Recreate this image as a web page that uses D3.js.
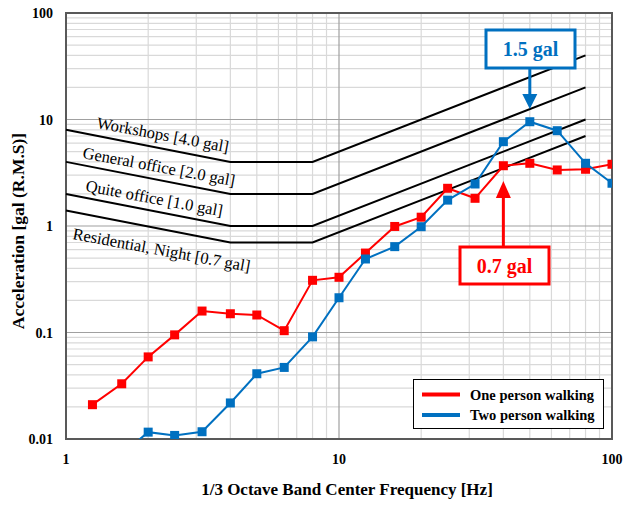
<!DOCTYPE html>
<html>
<head>
<meta charset="utf-8">
<script src="https://cdn.jsdelivr.net/npm/d3@7"></script>
<style>
  body { margin: 0; background: #fff; }
  svg { display: block; font-family: "Liberation Serif", "Times New Roman", serif; }
</style>
</head>
<body>
<script>
// 1/3 octave band centre frequencies [Hz]
var freqOne = [1.25, 1.6, 2, 2.5, 3.15, 4, 5, 6.3, 8, 10, 12.5, 16, 20, 25, 31.5, 40, 50, 63, 80, 100];
var oneWalking = [0.021, 0.033, 0.059, 0.095, 0.159, 0.150, 0.146, 0.104, 0.309, 0.33, 0.557, 0.99, 1.21, 2.26, 1.82, 3.68, 3.88, 3.36, 3.41, 3.80];
var freqTwo = [1.6, 2, 2.5, 3.15, 4, 5, 6.3, 8, 10, 12.5, 16, 20, 25, 31.5, 40, 50, 63, 80, 100];
var twoWalking = [0.0072, 0.0116, 0.0108, 0.0117, 0.0218, 0.041, 0.047, 0.091, 0.212, 0.49, 0.64, 0.985, 1.75, 2.48, 6.19, 9.53, 7.85, 3.88, 2.52];

// criteria curves
var critFreq = [1, 4, 8, 80];
var workshops = [8, 4, 4, 40];
var generalOffice = [4, 2, 2, 20];
var quietOffice = [2, 1, 1, 10];
var residential = [1.4, 0.7, 0.7, 7];
var critNames = ["Workshops [4.0 gal]", "General office [2.0 gal]", "Quite office [1.0 gal]", "Residential, Night [0.7 gal]"];

var xTicks = [1, 10, 100];
var yTicks = [0.01, 0.1, 1, 10, 100];

var width = 624, height = 505;
var pLeft = 66, pRight = 612, pTop = 13, pBottom = 439;

var svg = d3.select("body").append("svg")
	.attr("width", width)
	.attr("height", height);

var x = d3.scaleLog().domain([1, 100]).range([pLeft, pRight]);
var y = d3.scaleLog().domain([0.01, 100]).range([pBottom, pTop]);

// grid lines
var minorX = [], minorY = [];
[1, 10].forEach(function(d){ for (var k = 2; k <= 9; k++) minorX.push(d * k); });
[0.01, 0.1, 1, 10].forEach(function(d){ for (var k = 2; k <= 9; k++) minorY.push(d * k); });

var grid = svg.append("g");
grid.selectAll(".mx").data(minorX).enter().append("line")
	.attr("x1", d => x(d)).attr("x2", d => x(d))
	.attr("y1", pTop).attr("y2", pBottom)
	.attr("stroke", "#d9d9d9").attr("stroke-width", 1.2);
grid.selectAll(".my").data(minorY).enter().append("line")
	.attr("x1", pLeft).attr("x2", pRight)
	.attr("y1", d => y(d)).attr("y2", d => y(d))
	.attr("stroke", "#d9d9d9").attr("stroke-width", 1.2);
grid.selectAll(".Mx").data(xTicks).enter().append("line")
	.attr("x1", d => x(d)).attr("x2", d => x(d))
	.attr("y1", pTop).attr("y2", pBottom)
	.attr("stroke", "#a0a0a0").attr("stroke-width", 1.2);
grid.selectAll(".My").data(yTicks).enter().append("line")
	.attr("x1", pLeft).attr("x2", pRight)
	.attr("y1", d => y(d)).attr("y2", d => y(d))
	.attr("stroke", "#a0a0a0").attr("stroke-width", 1.2);

// plot frame
svg.append("rect")
	.attr("x", pLeft).attr("y", pTop)
	.attr("width", pRight - pLeft).attr("height", pBottom - pTop)
	.attr("fill", "none").attr("stroke", "#595959").attr("stroke-width", 2);

// tick labels
svg.selectAll(".xt").data(xTicks).enter().append("text")
	.attr("x", d => x(d)).attr("y", 464)
	.attr("text-anchor", "middle")
	.attr("font-size", 14).attr("font-weight", "bold")
	.text(d => d);
svg.selectAll(".yt").data(yTicks).enter().append("text")
	.attr("x", 53).attr("y", d => y(d) + 5)
	.attr("text-anchor", "end")
	.attr("font-size", 14).attr("font-weight", "bold")
	.text(d => d);

// axis titles
svg.append("text")
	.attr("x", 347).attr("y", 495)
	.attr("text-anchor", "middle")
	.attr("font-size", 17).attr("font-weight", "bold")
	.text("1/3 Octave Band Center Frequency [Hz]");
svg.append("text")
	.attr("transform", "translate(24,231) rotate(-90)")
	.attr("text-anchor", "middle")
	.attr("font-size", 17.5).attr("font-weight", "bold")
	.text("Acceleration [gal (R.M.S)]");

// criteria lines
var critLine = d3.line().x(d => x(d[0])).y(d => y(d[1]));
[workshops, generalOffice, quietOffice, residential].forEach(function(vals){
	svg.append("path")
		.attr("d", critLine(critFreq.map((f, i) => [f, vals[i]])))
		.attr("fill", "none").attr("stroke", "black").attr("stroke-width", 2);
});

// criteria labels, rotated along the lines
var labPos = [[96, 128], [82, 158], [85, 191], [72, 239]];
critNames.forEach(function(t, i){
	svg.append("text")
		.attr("transform", "translate(" + labPos[i][0] + "," + labPos[i][1] + ") rotate(10.5)")
		.attr("font-size", 16.5)
		.text(t);
});

// clip for data series
svg.append("clipPath").attr("id", "plotclip")
	.append("rect").attr("x", pLeft).attr("y", pTop)
	.attr("width", pRight - pLeft).attr("height", pBottom - pTop);

function drawSeries(fr, vals, color){
	var g = svg.append("g").attr("clip-path", "url(#plotclip)");
	var pts = fr.map((f, i) => [f, vals[i]]);
	g.append("path")
		.attr("d", critLine(pts))
		.attr("fill", "none").attr("stroke", color).attr("stroke-width", 2);
	g.selectAll("rect").data(pts).enter().append("rect")
		.attr("x", d => x(d[0]) - 4.5).attr("y", d => y(d[1]) - 4.5)
		.attr("width", 9).attr("height", 9)
		.attr("fill", color);
}
drawSeries(freqOne, oneWalking, "#ff0000");
drawSeries(freqTwo, twoWalking, "#0070c0");

// callout boxes with arrows
function callout(bx, by, bw, bh, label, color, sx, sy1, sy2, tipY, baseY){
	svg.append("line")
		.attr("x1", sx).attr("x2", sx).attr("y1", sy1).attr("y2", sy2)
		.attr("stroke", color).attr("stroke-width", 3);
	svg.append("path")
		.attr("d", "M" + (sx - 7.5) + "," + baseY + "L" + (sx + 7.5) + "," + baseY + "L" + sx + "," + tipY + "Z")
		.attr("fill", color);
	svg.append("rect")
		.attr("x", bx).attr("y", by).attr("width", bw).attr("height", bh)
		.attr("fill", "white").attr("stroke", color).attr("stroke-width", 3);
	svg.append("text")
		.attr("x", bx + bw / 2).attr("y", by + bh / 2 + 7)
		.attr("text-anchor", "middle")
		.attr("font-size", 20).attr("font-weight", "bold")
		.attr("fill", color)
		.text(label);
}
callout(486, 30, 89, 38, "1.5 gal", "#0070c0", x(50), 68, 95, 109, 94);
callout(460, 247, 89, 37, "0.7 gal", "#ff0000", x(40), 247, 197, 181, 198);

// legend
var legend = svg.append("g");
legend.append("rect")
	.attr("x", 413.5).attr("y", 379.5).attr("width", 190).attr("height", 49)
	.attr("fill", "white").attr("stroke", "black").attr("stroke-width", 1);
var legItems = [["One person walking", "#ff0000"], ["Two person walking", "#0070c0"]];
legItems.forEach(function(d, i){
	legend.append("line")
		.attr("x1", 422).attr("x2", 460)
		.attr("y1", 394.5 + i * 20.5).attr("y2", 394.5 + i * 20.5)
		.attr("stroke", d[1]).attr("stroke-width", 4);
	legend.append("text")
		.attr("x", 470).attr("y", 399.5 + i * 20.5)
		.attr("font-size", 14.5).attr("font-weight", "bold")
		.text(d[0]);
});
</script>
</body>
</html>
